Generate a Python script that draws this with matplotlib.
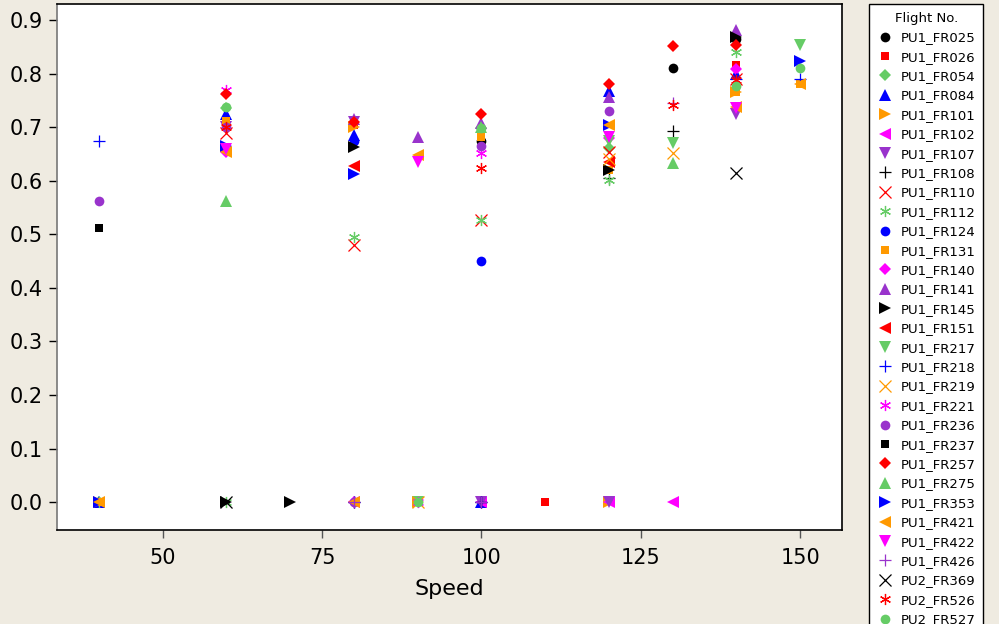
import numpy as np
import matplotlib
matplotlib.use("Agg")
import matplotlib.pyplot as plt
from matplotlib.lines import Line2D

nan = np.nan
speeds = [40, 60, 70, 80, 90, 100, 110, 120, 130, 140, 150]

flight_names = ["PU1_FR025", "PU1_FR026", "PU1_FR054", "PU1_FR084", "PU1_FR101", "PU1_FR102",
                "PU1_FR107", "PU1_FR108", "PU1_FR110", "PU1_FR112", "PU1_FR124", "PU1_FR131",
                "PU1_FR140", "PU1_FR141", "PU1_FR145", "PU1_FR151", "PU1_FR217", "PU1_FR218",
                "PU1_FR219", "PU1_FR221", "PU1_FR236", "PU1_FR237", "PU1_FR257", "PU1_FR275",
                "PU1_FR353", "PU1_FR421", "PU1_FR422", "PU1_FR426", "PU2_FR369", "PU2_FR526",
                "PU2_FR527"]

#        40    60    70    80     90     100    110   120    130    140    150
FR025 = [nan, nan, nan, nan, nan, 0.674, nan, nan, 0.810, 0.865, nan]
FR026 = [nan, nan, nan, 0.705, nan, nan, 0.0, nan, nan, 0.816, nan]
FR054 = [0.0, 0.735, nan, nan, nan, 0.698, nan, 0.661, nan, nan, nan]
FR084 = [0.0, 0.724, nan, 0.685, nan, 0.0, nan, 0.768, nan, 0.800, nan]
FR101 = [0.0, nan, nan, 0.700, 0.0, nan, nan, 0.0, nan, 0.765, nan]
FR102 = [nan, nan, nan, 0.0, nan, 0.0, nan, 0.0, 0.0, nan, nan]
FR107 = [nan, 0.700, nan, 0.710, nan, 0.0, nan, 0.0, nan, 0.725, nan]
FR108 = [nan, nan, nan, 0.0, nan, 0.0, nan, 0.605, 0.692, nan, nan]
FR110 = [nan, 0.690, nan, 0.480, nan, 0.526, nan, 0.653, nan, 0.790, nan]
FR112 = [0.0, 0.0, nan, 0.495, nan, 0.526, nan, 0.601, nan, 0.840, nan]
FR124 = [nan, nan, nan, 0.675, nan, 0.450, nan, nan, nan, nan, nan]
FR131 = [0.0, 0.711, nan, nan, nan, 0.682, nan, 0.620, nan, 0.765, 0.780]
FR140 = [nan, 0.654, nan, 0.0, nan, nan, nan, 0.680, nan, 0.808, nan]
FR141 = [nan, nan, nan, 0.715, 0.682, 0.707, nan, 0.756, nan, 0.881, nan]
FR145 = [nan, 0.0, 0.0, 0.663, nan, nan, nan, 0.620, nan, 0.868, nan]
FR151 = [nan, nan, nan, 0.627, nan, nan, nan, 0.635, nan, nan, nan]
FR217 = [nan, nan, nan, nan, 0.0, nan, nan, 0.674, 0.670, nan, 0.853]
FR218 = [0.674, nan, nan, 0.0, nan, 0.0, nan, nan, nan, 0.790, 0.790]
FR219 = [nan, nan, nan, nan, 0.0, nan, nan, 0.640, 0.651, nan, nan]
FR221 = [nan, 0.770, nan, nan, 0.0, 0.651, nan, nan, nan, nan, nan]
FR236 = [0.562, 0.700, nan, 0.0, nan, 0.664, nan, 0.730, nan, nan, nan]
FR237 = [0.512, nan, nan, nan, nan, nan, nan, nan, nan, nan, nan]
FR257 = [nan, 0.762, nan, 0.710, nan, 0.724, nan, 0.780, 0.852, 0.853, nan]
FR275 = [nan, 0.563, nan, nan, nan, 0.700, nan, nan, 0.633, nan, nan]
FR353 = [0.0, 0.665, nan, 0.613, nan, nan, nan, 0.704, nan, nan, 0.824]
FR421 = [0.0, 0.654, nan, 0.0, 0.648, nan, nan, 0.704, nan, 0.738, 0.780]
FR422 = [nan, 0.660, nan, nan, 0.635, nan, nan, 0.682, nan, 0.735, nan]
FR426 = [nan, nan, nan, 0.0, nan, 0.0, nan, nan, 0.745, nan, nan]
FR369 = [nan, 0.0, nan, nan, nan, nan, nan, nan, nan, 0.615, nan]
FR526 = [nan, 0.700, nan, nan, nan, 0.623, nan, nan, 0.741, 0.788, nan]
FR527 = [nan, 0.738, nan, nan, 0.0, 0.698, nan, nan, nan, 0.777, 0.810]

series = [FR025, FR026, FR054, FR084, FR101, FR102, FR107, FR108, FR110, FR112, FR124,
          FR131, FR140, FR141, FR145, FR151, FR217, FR218, FR219, FR221, FR236, FR237,
          FR257, FR275, FR353, FR421, FR422, FR426, FR369, FR526, FR527]

colors = ["#000000", "#ff0000", "#66cc66", "#0000ff", "#ff9900", "#ff00ff", "#9933cc"]
asterisk = (6, 2, 0)
markers = ["o", "s", "D", "^", ">", "<", "v", "+", "x", asterisk]
sizes = {"o": 7, "s": 6, "D": 6, "^": 9, ">": 9, "<": 9, "v": 9, "+": 9, "x": 8}

BG = "#efebe1"
fig = plt.figure(figsize=(9.99, 6.24), dpi=100, facecolor=BG)
ax = fig.add_axes([0.057, 0.1506, 0.786, 0.843])
ax.set_facecolor("white")

handles = []
for i, (name, vals) in enumerate(zip(flight_names, series)):
    c = colors[i % len(colors)]
    m = markers[i % len(markers)]
    ms = sizes.get(m, 8) if not isinstance(m, tuple) else 8
    x = np.array(speeds, dtype=float)
    y = np.array(vals, dtype=float)
    ok = ~np.isnan(y)
    filled = m not in ("+", "x") and not isinstance(m, tuple)
    mew = 0 if filled else 0.9
    ax.plot(x[ok], y[ok], linestyle="none", marker=m, color=c, markersize=ms,
            markeredgewidth=mew)
    handles.append(Line2D([], [], linestyle="none", marker=m, color=c, markersize=ms,
                          markeredgewidth=mew))

ax.set_xlim(33.4, 156.6)
ax.set_ylim(-0.052, 0.930)
ax.set_xticks([50, 75, 100, 125, 150])
ax.set_yticks(np.arange(0, 0.91, 0.1))
ax.set_yticklabels([f"{v:.1f}" for v in np.arange(0, 0.91, 0.1)])
ax.tick_params(axis="both", direction="out", length=6, width=1, labelsize=15,
               colors="black", pad=4)
ax.tick_params(axis="x", color="#555555", pad=7)
for s in ax.spines.values():
    s.set_color("black")
    s.set_linewidth(1.2)
ax.spines["left"].set_color("#777777")
ax.set_xlabel("Speed", fontsize=16, labelpad=8)

leg = fig.legend(handles=handles, labels=flight_names, title="Flight No.",
                 loc="upper left", bbox_to_anchor=(869 / 999, 1 - 4 / 624),
                 bbox_transform=fig.transFigure, fontsize=9.5, title_fontsize=9.5,
                 frameon=True, fancybox=False, edgecolor="black", facecolor="white",
                 framealpha=1, labelspacing=0.485, handletextpad=0.6, borderpad=0.6,
                 handlelength=1.2, borderaxespad=0)
leg.get_frame().set_linewidth(1.0)

fig.savefig("out.png", dpi=100, facecolor=BG)
